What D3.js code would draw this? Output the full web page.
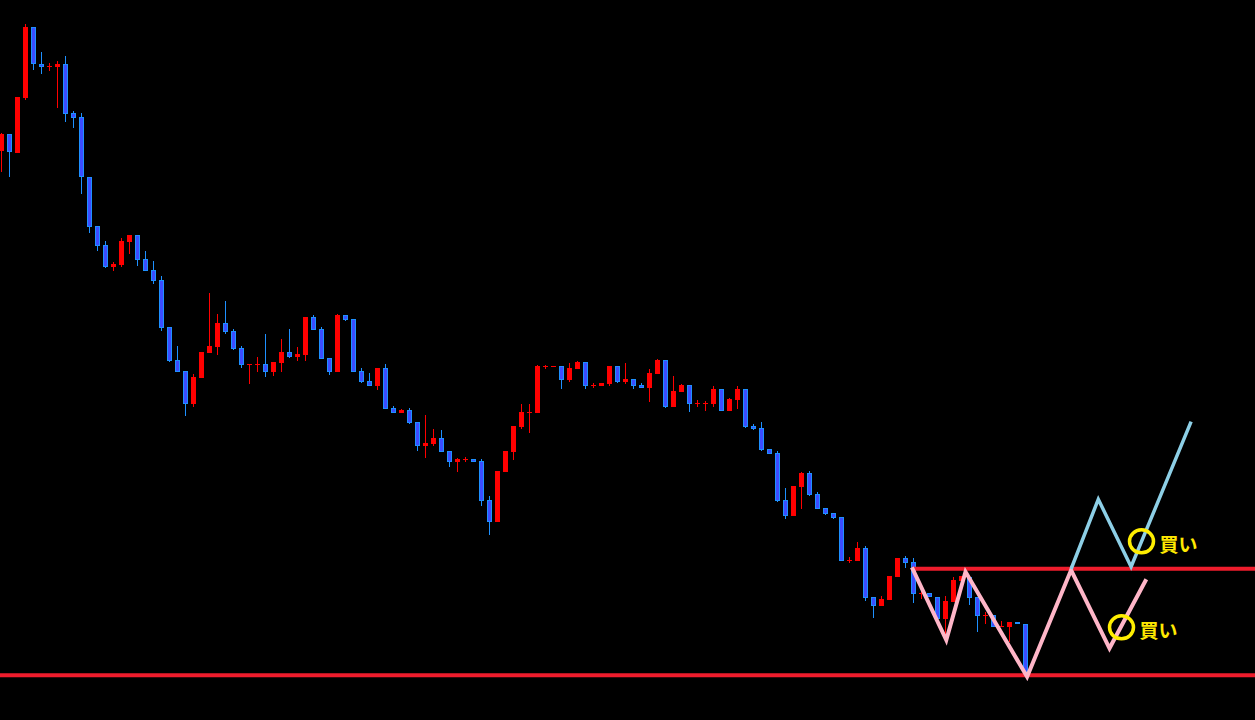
<!DOCTYPE html>
<html>
<head>
<meta charset="utf-8">
<script src="https://cdn.jsdelivr.net/npm/d3@7"></script>
<style>
html,body{margin:0;padding:0;background:#000;overflow:hidden;}
svg{display:block;}
</style>
</head>
<body>
<svg id="chart" width="1255" height="720"></svg>
<script>
// OHLC values (arbitrary price units)
const opens = [569.3,586,567.3,622.3,693,656,654,653.3,656,607,603,543,494,475,453,455,478.3,485,461,450,440,393,360,349,316.3,342.3,367.3,373.3,397,389,372,355.7,355.7,356,348.3,357.3,368,363.3,365,403,391,362,348.3,405,401,349,339,334.3,352,312,307.3,310,298,274.3,276.3,282,269,258.3,261,261,259,220,198.3,248.3,268.3,293,308,307,354,354,354,340.3,351,358,335.3,334.3,336.3,354,338.3,341,335,332.3,346.3,360,313.3,328.3,335,317,317,316.3,331,309.3,320.3,331,294,292,271,267,220,204.3,233.3,247,226,212,207,203,160.3,159.3,172.3,123,114.3,120.3,143.3,162.3,158.3,127.3,126.7,122.7,101.3,118.3,139.3,143.3,122.7,104.7,104.7,93.7,93.3,97.7,95.7];
const highs = [587,586,623,696,693,668,657.3,659,664,609.3,606.7,543,494,479,458,482,485,485,469,459,444,393,374,349,346,368,427.3,406,419,391,374,356,363,386,358,381,391,373,403,405,393,362,406,405,401,352,347,352,356,314,311,312,298,305,291,290,269,262,262.7,261,261,224,249,269,294,316,316,355,355,354,354,357,359,358,337.3,337,354,354,357,341,337,351,361,360,344,336,335,320,318.7,334,331,322,334,331,296,298,271,269,232,234,248,249,228,212,207,203,163.3,178.3,174.3,123,124.3,144.3,162.3,164.3,162.3,130,126.7,122.7,124,143,144,143.3,122.7,107.7,104.7,99,97.7,97.7,95.7];
const lows = [548.3,543.3,567.3,620,650,646,649.3,612.3,598.3,592.3,526.3,487.3,469.3,452.3,449.3,453,466.3,454.3,449.3,436.3,389.3,358.3,348.3,304.3,313.3,342.3,367.3,365.3,386.3,370.3,352.3,336.3,348.3,343.3,344.3,348.3,362.3,359.3,359.3,390.3,361.3,345.3,348.3,399,348.3,337.3,334.3,330.3,311.3,307.5,307.3,296,269.3,262.3,274.3,268.3,253.3,248.3,258.3,258.3,214.3,185.3,198.3,248.3,260.3,291,287,307,351,354,331,338.3,351,331.3,332.3,334.3,334.3,337.3,336.3,331.3,332.3,318.3,346.3,312.3,313.3,328.3,308.3,313,309.3,313.3,309.3,309.3,311,292.3,290.3,269.3,266.3,218.3,201.3,204.3,211.3,224.3,211.3,205.3,201.3,159.3,157,159.3,119.3,102.3,114.3,120.3,143.3,152.3,117.3,120.7,122.7,101.3,83.3,118.3,139.3,115.3,88.3,95.7,93.3,93,78.3,95.7,45];
const closes = [586,567.7,623,693,655.7,653.3,654,656,606.3,602.3,542.7,493.3,474.3,453.3,456.3,479,485,460.3,449.3,439.3,392.3,359.3,348.3,316.3,343.3,368,374,397,388.3,371.3,355.3,355.7,355.7,348.3,358,368,363.3,366,403,390.3,361.3,348.3,405,400.3,348.3,338.3,334.3,352,311.3,307.5,310,297,274.3,277,282,268.3,258.3,261,261,258.3,219.3,198.3,249,269,294,308,308,354,354,354,340.3,352,358,334.3,335.3,337,354,338,341,334.3,332.3,347,360,313.3,329,335,316.3,317,317,331,309.3,321,331,293.3,291.3,270,266.3,219.3,204.3,234,247,225.3,211.3,206.3,202.3,159.3,160.3,172.3,122.3,114.3,121.3,144.3,162.3,157.3,126.3,127.3,122.7,101.3,118.7,140,144,122.3,104.3,104.7,93.3,93.7,97.7,95.7,48.3];

// horizontal levels
const supportLevel = 44.7;
const resistanceLevel = 151.3;
const resistanceStart = 113.8;

// scenario zigzags: [bar index, price]
const pinkPath = [[113.8,152.7],[118.1,80],[120.5,148.3],[128.2,43.3],[133.7,150],[138.5,71.7],[143.1,140.7]];
const bluePath = [[133.7,151],[137.1,220.7],[141.2,153.3],[148.7,298.3]];

// buy markers
const markers = [[142.5,178.7],[140.0,92.7]];
const markerLabel = "買い";

const svg = d3.select("#chart");
svg.append("rect").attr("width",1255).attr("height",720).attr("fill","#000");

const x = d3.scaleLinear().domain([0,128]).range([1.5,1025.5]);
const y = d3.scaleLinear().domain([0,720]).range([720,0]);

const data = opens.map((o,i)=>({i,o,h:highs[i],l:lows[i],c:closes[i]}));

const g = svg.append("g").attr("shape-rendering","crispEdges");

const up = d => d.c >= d.o;
const RED = "#ff0000", BLUEF = "#3c4cff", BLUES = "#1e90ff";

g.selectAll("line.wick").data(data).join("line")
  .attr("class","wick")
  .attr("x1",d=>Math.floor(x(d.i))+0.5).attr("x2",d=>Math.floor(x(d.i))+0.5)
  .attr("y1",d=>y(d.h)).attr("y2",d=>y(d.l))
  .attr("stroke",d=>up(d)?RED:BLUES).attr("stroke-width",1);

g.selectAll("rect.body").data(data).join("rect")
  .attr("class","body")
  .attr("x",d=>Math.floor(x(d.i))-2 + (up(d)?0:0.5))
  .attr("width",d=>up(d)?5:4)
  .attr("y",d=>Math.min(y(d.o),y(d.c)) + (up(d)?0:0.5))
  .attr("height",d=>{const h=Math.abs(y(d.o)-y(d.c)); return up(d)?Math.max(1,h):Math.max(1,h-1);})
  .attr("fill",d=>up(d)?RED:BLUEF)
  .attr("stroke",d=>up(d)?"none":BLUES)
  .attr("stroke-width",1);

// levels
const LINE_RED = "#ee1c2c";
svg.append("line").attr("x1",0).attr("x2",1255)
  .attr("y1",y(supportLevel)).attr("y2",y(supportLevel))
  .attr("stroke",LINE_RED).attr("stroke-width",4);
svg.append("line").attr("x1",x(resistanceStart)).attr("x2",1255)
  .attr("y1",y(resistanceLevel)).attr("y2",y(resistanceLevel))
  .attr("stroke",LINE_RED).attr("stroke-width",4);

const lineGen = d3.line().x(d=>x(d[0])).y(d=>y(d[1]));
svg.append("path").attr("d",lineGen(pinkPath)).attr("fill","none")
  .attr("stroke","#ffb6c8").attr("stroke-width",4).attr("stroke-linejoin","miter");
svg.append("path").attr("d",lineGen(bluePath)).attr("fill","none")
  .attr("stroke","#8dcfe6").attr("stroke-width",3.5).attr("stroke-linejoin","miter");

svg.selectAll("ellipse.mk").data(markers).join("ellipse")
  .attr("class","mk")
  .attr("cx",d=>x(d[0])).attr("cy",d=>y(d[1]))
  .attr("rx",12).attr("ry",11.5)
  .attr("fill","none").attr("stroke","#ffee00").attr("stroke-width",3.5);

svg.selectAll("text.mk").data(markers).join("text")
  .attr("class","mk")
  .attr("x",d=>x(d[0])+18).attr("y",d=>y(d[1])+11)
  .attr("font-family","'Noto Sans CJK JP', sans-serif")
  .attr("font-weight","bold").attr("font-size",19)
  .attr("fill","#ffe800")
  .text(markerLabel);
</script>
</body>
</html>
